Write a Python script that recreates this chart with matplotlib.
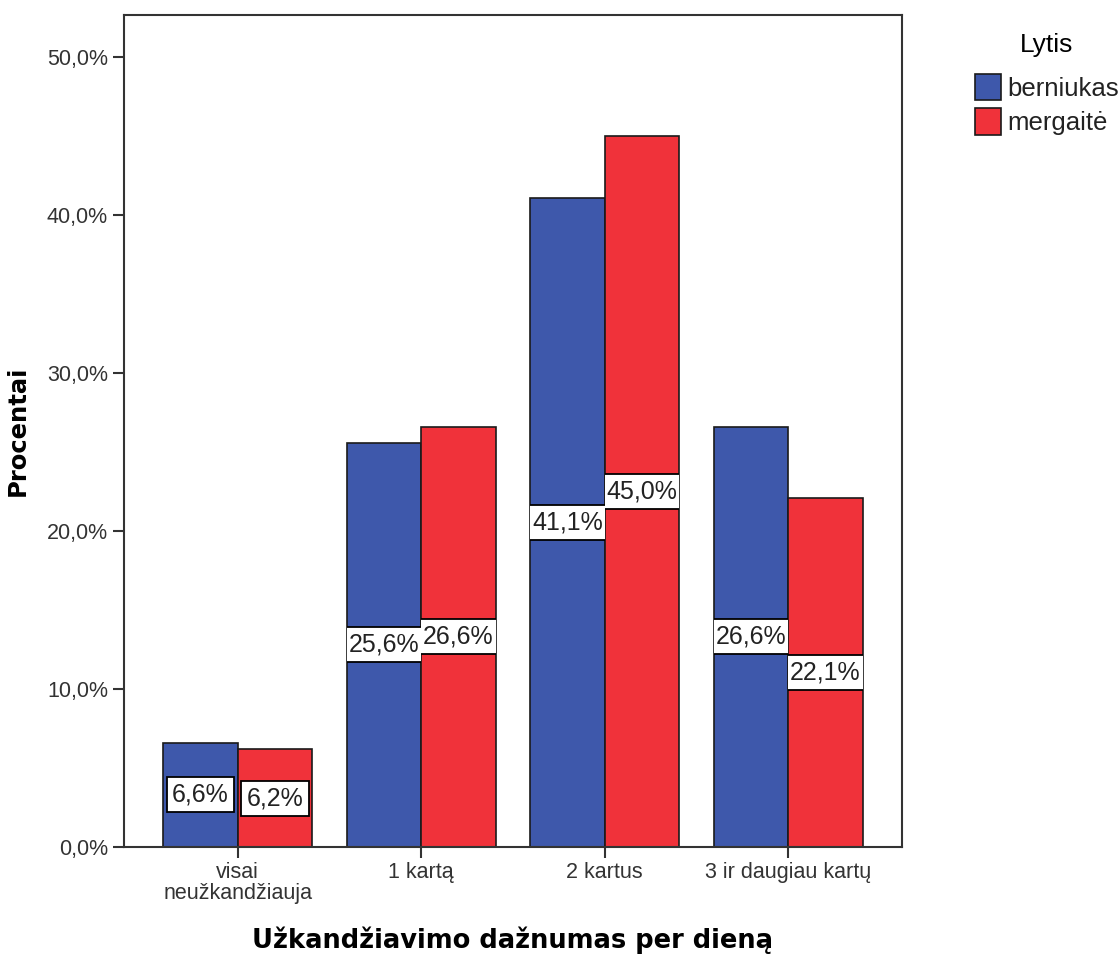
import numpy as np
import matplotlib
matplotlib.use("Agg")
import matplotlib.pyplot as plt

# duomenys
categories = ["visai\nneužkandžiauja", "1 kartą", "2 kartus", "3 ir daugiau kartų"]
berniukas = [6.6, 25.6, 41.1, 26.6]
mergaite = [6.2, 26.6, 45.0, 22.1]
series_names = ["berniukas", "mergaitė"]
yticks = [0, 10, 20, 30, 40, 50]

colors = ["#3e58ab", "#f0323a"]

plt.rcParams["font.family"] = ["Liberation Sans", "DejaVu Sans"]

fig = plt.figure(figsize=(11.2, 9.57), dpi=100)
ax = fig.add_axes([124 / 1120, 1 - 847 / 957, (902 - 124) / 1120, (847 - 15) / 957])

x = np.arange(len(categories))
w = 0.405
for vals, off, col, name in [(berniukas, -w / 2, colors[0], series_names[0]),
                             (mergaite, w / 2, colors[1], series_names[1])]:
    bars = ax.bar(x + off, vals, width=w, color=col, edgecolor="#1a1a1a",
                  linewidth=1.2, label=name)
    for b, v in zip(bars, vals):
        # etiketė apkerpama stulpelio ribose, kaip SPSS
        t = ax.text(b.get_x() + b.get_width() / 2, v / 2,
                    ("%.1f%%" % v).replace(".", ","), ha="center", va="center",
                    fontsize=18, color="#222222", clip_on=True,
                    bbox=dict(boxstyle="square,pad=0.22", fc="white",
                              ec="black", lw=1.3))
        t.set_clip_path(b)
        t.get_bbox_patch().set_clip_on(True)
        t.get_bbox_patch().set_clip_path(b)

ax.set_xlim(-0.62, 3.62)
ax.set_ylim(0, 52.66)
ax.set_yticks(yticks)
ax.set_yticklabels([("%.1f%%" % v).replace(".", ",") for v in yticks])
ax.set_xticks(x)
ax.set_xticklabels(categories, linespacing=1.0)
ax.tick_params(axis="both", labelsize=15.5, colors="#333333", length=8, width=1.5)
ax.tick_params(axis="x", pad=3)
for s in ax.spines.values():
    s.set_linewidth(1.5)
    s.set_color("#333333")

ax.set_xlabel("Užkandžiavimo dažnumas per dieną", fontsize=18.5,
              fontweight="bold", family="DejaVu Sans", labelpad=16)
ax.set_ylabel("Procentai", fontsize=17.5, fontweight="bold",
              family="DejaVu Sans", labelpad=12)

leg = fig.legend(loc="upper left", bbox_to_anchor=(970 / 1120, 1 - 28 / 957),
                 title="Lytis", fontsize=18.5, title_fontsize=19, frameon=False,
                 handlelength=1.0, handleheight=1.2, handletextpad=0.25,
                 labelspacing=0.3, borderaxespad=0, borderpad=0.2)
leg._legend_box.sep = 12
for txt in leg.get_texts():
    txt.set_color("#222222")

fig.savefig("out.png", dpi=100)
